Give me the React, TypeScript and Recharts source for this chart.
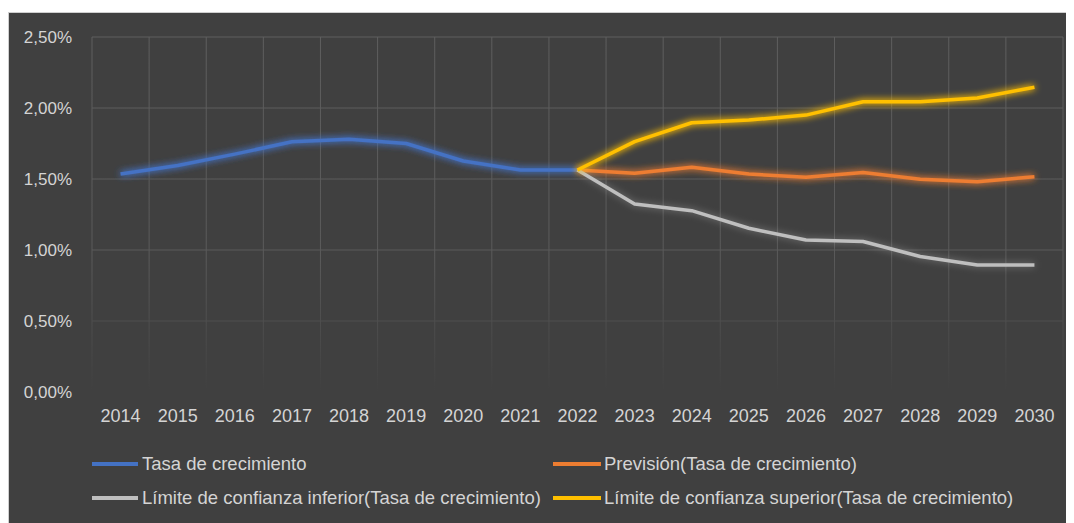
import {
  LineChart,
  Line,
  XAxis,
  YAxis,
  CartesianGrid,
  Legend,
} from 'recharts';

const YEARS = ['2014', '2015', '2016', '2017', '2018', '2019', '2020', '2021', '2022', '2023', '2024', '2025', '2026', '2027', '2028', '2029', '2030'];
const TASA = [1.535, 1.595, 1.675, 1.762, 1.78, 1.75, 1.627, 1.563, 1.563, null, null, null, null, null, null, null, null];
const PREVISION = [null, null, null, null, null, null, null, null, 1.563, 1.54, 1.582, 1.535, 1.512, 1.545, 1.498, 1.481, 1.516];
const INFERIOR = [null, null, null, null, null, null, null, null, 1.563, 1.324, 1.277, 1.153, 1.07, 1.06, 0.954, 0.894, 0.894];
const SUPERIOR = [null, null, null, null, null, null, null, null, 1.563, 1.763, 1.896, 1.915, 1.95, 2.044, 2.044, 2.07, 2.146];
const Y_TICKS = [0, 0.5, 1, 1.5, 2, 2.5];

const SERIES = [
  { key: 'tasa', name: 'Tasa de crecimiento', color: '#4472C4', glow: 1.6 },
  { key: 'prevision', name: 'Previsión(Tasa de crecimiento)', color: '#ED7D31', glow: 1.4 },
  { key: 'inferior', name: 'Límite de confianza inferior(Tasa de crecimiento)', color: '#BFBFBF', glow: 0.5 },
  { key: 'superior', name: 'Límite de confianza superior(Tasa de crecimiento)', color: '#FFC000', glow: 1.5 },
];

const data = YEARS.map((year, i) => ({
  year,
  tasa: TASA[i],
  prevision: PREVISION[i],
  inferior: INFERIOR[i],
  superior: SUPERIOR[i],
}));

const FONT = '"Liberation Sans", Arial, sans-serif';
const TEXT = '#d4d4d4';

const fmtPct = (v: number) => v.toFixed(2).replace('.', ',') + '%';

// grid lines sit on the category boundaries, like Excel
const gridX = ({ offset }: any) => {
  const out: number[] = [];
  for (let i = 0; i <= YEARS.length; i++) {
    out.push(offset.left + (i * offset.width) / YEARS.length);
  }
  return out;
};

const LegendBox = () => {
  const cols = [
    { line: 83, w: 46, text: 133 },
    { line: 544, w: 48, text: 595 },
  ];
  const rows = [32, 66];
  return (
    <div style={{ position: 'relative', width: 1065, height: 71, fontFamily: FONT, fontSize: 18.5, color: TEXT }}>
      {SERIES.map((s, i) => {
        const c = cols[i % 2];
        const r = rows[Math.floor(i / 2)];
        return (
          <div key={s.key}>
            <span style={{ position: 'absolute', left: c.line, top: r - 2, width: c.w, height: 4, background: s.color }} />
            <span style={{ position: 'absolute', left: c.text, top: r - 11, lineHeight: '22px', whiteSpace: 'nowrap' }}>{s.name}</span>
          </div>
        );
      })}
    </div>
  );
};

export default function App() {
  return (
    <div style={{ width: 1066, height: 515, background: '#fff', position: 'relative', overflow: 'hidden' }}>
      <svg width={1} height={1} style={{ position: 'absolute', left: 0, top: 0 }}>
        <defs>
          <linearGradient id="gridFade" gradientUnits="userSpaceOnUse" x1={0} y1={24} x2={0} y2={379}>
            <stop offset="0%" stopColor="#5e5e5e" />
            <stop offset="62%" stopColor="#5a5a5a" />
            <stop offset="90%" stopColor="#474747" />
            <stop offset="100%" stopColor="#404040" />
          </linearGradient>
          {SERIES.map((s) => (
            <filter key={s.key} id={'glow-' + s.key} filterUnits="userSpaceOnUse" x={0} y={0} width={1065} height={510}>
              <feGaussianBlur in="SourceGraphic" stdDeviation={3.5} result="blur" />
              <feComponentTransfer in="blur" result="soft">
                <feFuncA type="linear" slope={s.glow} />
              </feComponentTransfer>
              <feMerge>
                <feMergeNode in="soft" />
                <feMergeNode in="SourceGraphic" />
              </feMerge>
            </filter>
          ))}
        </defs>
      </svg>
      <div
        style={{
          position: 'absolute',
          left: 0,
          top: 4,
          width: 1066,
          height: 511,
          background: '#404040',
          borderLeft: '1px solid #cfcfcf',
          borderTop: '1px solid #cfcfcf',
          boxSizing: 'border-box',
        }}
      >
        <LineChart width={1065} height={510} data={data} margin={{ top: 24, right: 11, left: 0, bottom: 20 }}>
          <CartesianGrid stroke="url(#gridFade)" strokeWidth={1} verticalCoordinatesGenerator={gridX} />
          <XAxis
            dataKey="year"
            scale="band"
            height={40}
            axisLine={false}
            tickLine={false}
            tickMargin={11}
            interval={0}
            tick={{ fill: TEXT, fontSize: 18, fontFamily: FONT }}
          />
          <YAxis
            width={83}
            domain={[0, 2.5]}
            ticks={Y_TICKS}
            axisLine={false}
            tickLine={false}
            tickMargin={14}
            tickFormatter={fmtPct}
            tick={{ fill: TEXT, fontSize: 17, fontFamily: FONT }}
          />
          <Legend
            verticalAlign="bottom"
            content={() => <LegendBox />}
            wrapperStyle={{ left: 0, width: 1065, height: 71 }}
          />
          {SERIES.map((s) => (
            <Line
              key={s.key}
              dataKey={s.key}
              name={s.name}
              stroke={s.color}
              strokeWidth={3.5}
              dot={false}
              activeDot={false}
              connectNulls={false}
              strokeLinejoin="round"
              style={{ filter: `url(#glow-${s.key})` }}
              isAnimationActive={false}
            />
          ))}
        </LineChart>
      </div>
    </div>
  );
}
